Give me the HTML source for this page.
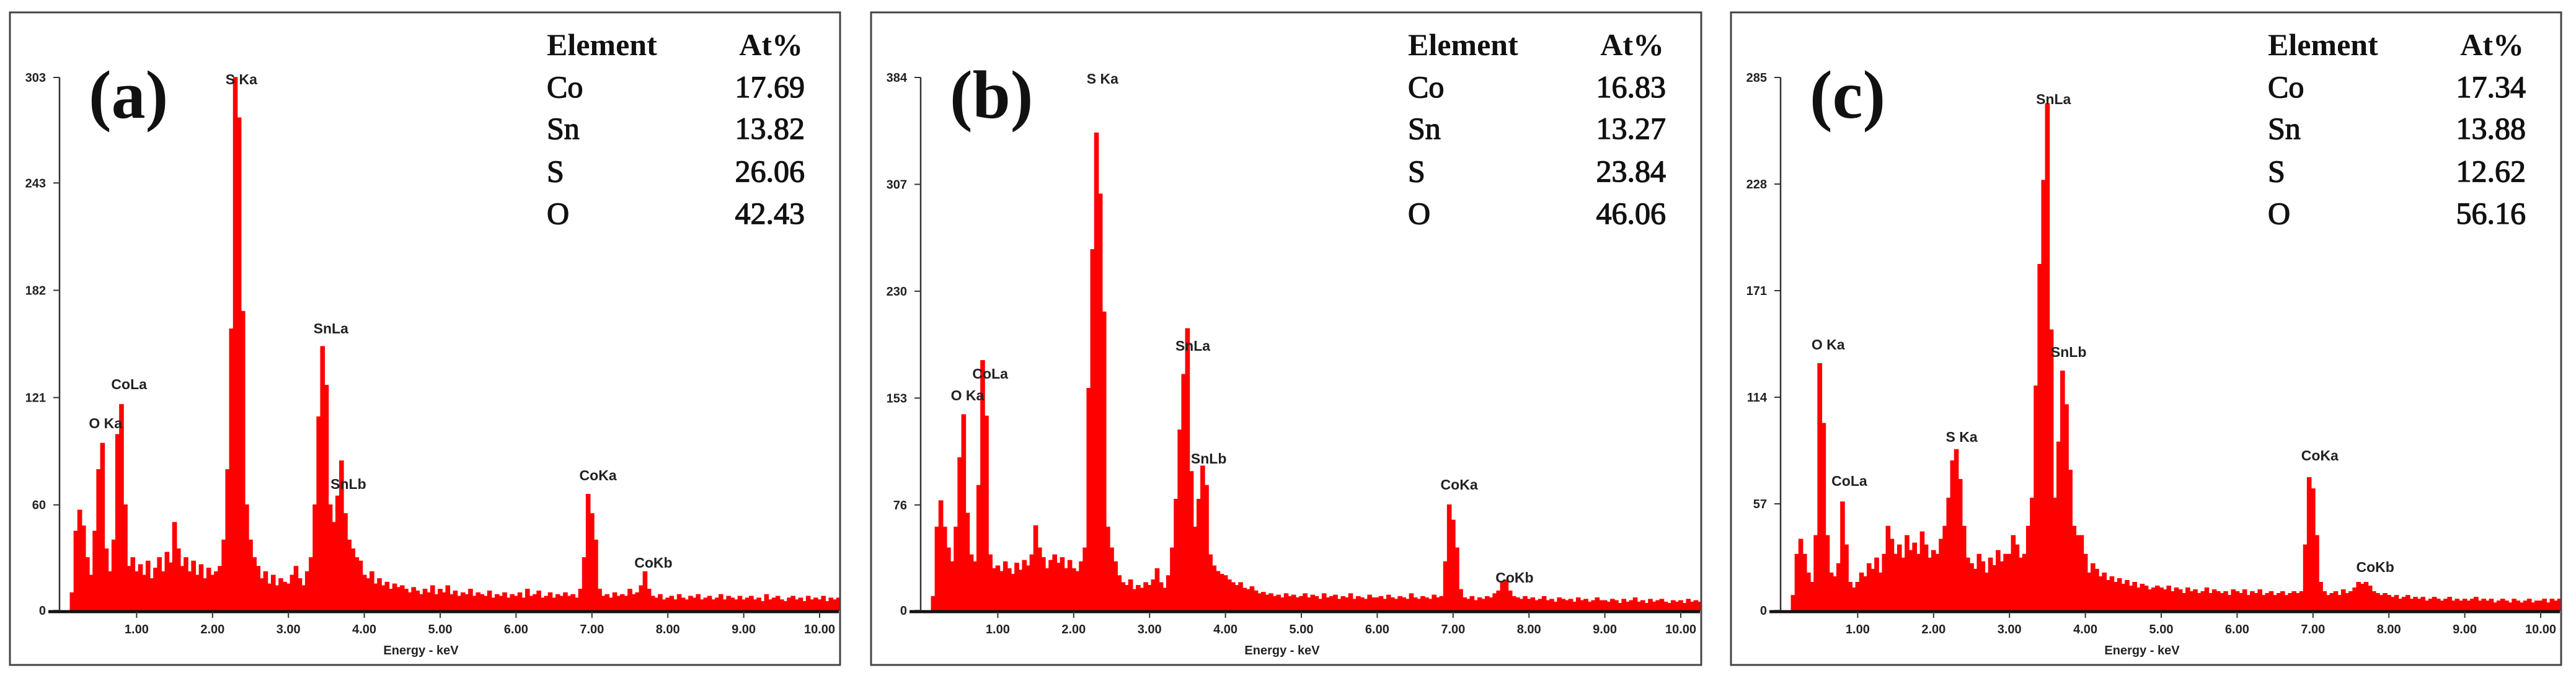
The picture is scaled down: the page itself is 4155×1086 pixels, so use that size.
<!DOCTYPE html>
<html><head><meta charset="utf-8">
<style>
html,body{margin:0;padding:0;background:#fff;}
svg{display:block;}
.tick{font-family:"Liberation Sans Narrow","Liberation Sans",sans-serif;font-weight:bold;font-size:20px;fill:#222;}
.pk{font-family:"Liberation Sans Narrow","Liberation Sans",sans-serif;font-weight:bold;font-size:23px;fill:#222;}
.tb{font-family:"Liberation Serif",serif;font-size:50px;fill:#111;}
.tr{stroke:#111;stroke-width:1.3px;}
</style></head>
<body>
<svg id="chart" width="4155" height="1086" viewBox="0 0 4155 1086" xmlns="http://www.w3.org/2000/svg"></svg>
<script>
// ---- data ----
const binStart = 0.15;   // keV of first bin
const binStep = 0.05;    // keV per bin
const panelLetters = ["(a)", "(b)", "(c)"];
const yMaxes = [303, 384, 285];
const yTicksA = [0, 60, 121, 182, 243, 303];
const yTicksB = [0, 76, 153, 230, 307, 384];
const yTicksC = [0, 57, 114, 171, 228, 285];
const xTickValues = [1, 2, 3, 4, 5, 6, 7, 8, 9, 10];
const xTickLabels = ["1.00","2.00","3.00","4.00","5.00","6.00","7.00","8.00","9.00","10.00"];
const elements = ["Co", "Sn", "S", "O"];
const atA = ["17.69", "13.82", "26.06", "42.43"];
const atB = ["16.83", "13.27", "23.84", "46.06"];
const atC = ["17.34", "13.88", "12.62", "56.16"];
const countsA = [10,45,57,48,30,20,45,80,95,35,22,40,100,117,60,25,30,
22,26,20,28,18,24,30,22,33,27,50,35,25,30,22,28,20,26,18,24,
20,22,25,40,80,160,303,280,170,60,40,30,25,18,22,15,20,14,18,16,
15,20,25,18,14,22,30,60,110,150,128,60,50,65,85,55,40,35,30,28,
20,18,22,15,18,14,16,12,15,13,14,12,10,13,11,9,12,10,14,9,
12,10,14,9,11,8,10,9,12,8,10,9,8,11,7,9,8,10,7,9,
8,10,7,12,8,9,11,7,8,10,7,9,8,10,8,9,7,12,30,66,
55,40,12,8,9,7,10,8,9,8,12,9,10,14,22,12,8,7,9,6,
7,8,6,9,7,6,8,7,9,6,7,8,6,7,9,6,8,7,6,8,
6,7,8,6,7,5,9,6,7,8,6,5,7,8,6,7,5,8,6,7,
6,8,5,7,6,7];
const countsB = [10,60,79,60,45,35,60,110,141,70,40,35,90,180,140,40,30,
32,28,35,30,26,34,29,36,32,40,61,45,38,30,36,40,34,38,30,36,
30,28,35,45,160,260,344,300,215,60,45,35,25,20,18,22,15,18,16,20,
18,22,30,20,16,25,45,80,130,170,203,100,60,80,104,90,40,32,28,26,
25,22,20,18,20,16,15,17,14,12,13,11,12,10,11,9,12,10,11,9,
10,12,9,11,10,8,12,9,10,11,8,10,9,12,8,10,9,8,11,9,
9,10,8,11,9,8,10,9,8,12,9,8,10,9,8,11,9,10,35,76,
65,45,15,9,8,10,7,9,8,10,9,12,14,20,22,14,10,9,8,10,
8,9,7,8,10,7,8,6,9,8,7,8,6,9,7,8,6,7,9,7,
7,6,8,7,5,8,6,7,9,6,7,5,8,6,7,8,6,5,7,6,
7,5,8,6,7,6];
const countsC = [8,30,38,30,20,15,40,132,100,40,20,18,25,58,35,15,12,
15,20,18,25,22,28,20,30,45,38,30,35,28,40,32,36,30,42,35,28,
32,30,38,45,60,80,86,70,45,28,25,22,30,26,20,28,24,32,26,30,
30,40,35,28,30,45,60,120,185,230,271,150,60,90,128,110,75,45,40,40,
30,20,25,22,18,20,16,18,15,17,14,16,13,15,12,14,13,11,12,13,
12,11,13,10,12,11,9,12,10,11,9,10,12,9,11,10,9,10,8,11,
10,9,11,8,10,9,11,8,9,10,8,9,10,8,9,10,9,10,35,71,
65,40,15,10,8,9,10,8,11,9,10,12,15,14,15,13,10,9,8,9,
8,7,8,6,7,8,6,7,6,7,5,6,7,6,5,6,7,5,6,5,
6,5,6,7,5,6,5,6,4,5,6,5,4,6,5,4,5,6,4,5,
5,6,4,6,5,6];
const peakNamesA = ["S Ka","SnLa","CoLa","O Ka","SnLb","CoKa","CoKb"];
const peakEA = [2.38,3.56,0.90,0.59,3.79,7.08,7.81];
const peakYA = [128,530,620,683,781,767,908];
const peakNamesB = ["S Ka","SnLa","CoLa","O Ka","SnLb","CoKa","CoKb"];
const peakEB = [2.38,3.57,0.90,0.60,3.78,7.08,7.81];
const peakYB = [127,558,603,638,740,782,932];
const peakNamesC = ["SnLa","O Ka","SnLb","S Ka","CoLa","CoKa","CoKb"];
const peakEC = [3.58,0.61,3.78,2.37,0.89,7.09,7.82];
const peakYC = [160,556,568,705,776,735,915];

// ---- layout ----
const frameLefts = [16, 1405, 2792];
const NS = "http://www.w3.org/2000/svg";
const svg = document.getElementById("chart");
function mk(tag, attrs, parent){
  const e = document.createElementNS(NS, tag);
  for (const k in attrs) e.setAttribute(k, attrs[k]);
  parent.appendChild(e);
  return e;
}
const panels = [
  {ticks:yTicksA, at:atA, counts:countsA, pn:peakNamesA, pe:peakEA, py:peakYA},
  {ticks:yTicksB, at:atB, counts:countsB, pn:peakNamesB, pe:peakEB, py:peakYB},
  {ticks:yTicksC, at:atC, counts:countsC, pn:peakNamesC, pe:peakEC, py:peakYC}
];
const BASE = 985, TOP = 125, KEV = 122.4;
panels.forEach((p, i) => {
  const F = frameLefts[i];
  const ymax = yMaxes[i];
  const xs = e => F + 82 + e * KEV;
  const ys = v => BASE - v / ymax * (BASE - TOP);
  const right = F + 1337;
  const g = mk("g", {}, svg);
  
  

  const fr = mk("rect", {x:F, y:20, width:1339, height:1053, fill:"#fff", stroke:"#444", "stroke-width":3}, g);
  
  

  // spectrum as histogram
  let d = "M" + xs(binStart - binStep/2) + "," + BASE;
  p.counts.forEach((c, k) => {
    const e = binStart + k * binStep;
    const x0 = Math.min(xs(e - binStep/2), right), x1 = Math.min(xs(e + binStep/2), right);
    d += " L" + x0.toFixed(1) + "," + ys(c).toFixed(1) + " L" + x1.toFixed(1) + "," + ys(c).toFixed(1);
  });
  d += " L" + Math.min(xs(binStart + (p.counts.length - 0.5) * binStep), right).toFixed(1) + "," + BASE + " Z";
  const sp = mk("path", {d:d, fill:"#ff0000", stroke:"#ff0000", "stroke-width":1.5, "stroke-linejoin":"miter"}, g);
  
  

  // axes
  const ya = mk("line", {x1:F+80, y1:TOP, x2:F+80, y2:BASE, stroke:"#333", "stroke-width":2.5}, g);
  
  
  const xa = mk("line", {x1:F+62, y1:BASE+2, x2:right, y2:BASE+2, stroke:"#111", "stroke-width":5}, g);
  
  

  p.ticks.forEach(v => {
    const y = ys(v);
    mk("line", {x1:F+70, y1:y, x2:F+80, y2:y, stroke:"#333", "stroke-width":2}, g);
    const t = mk("text", {x:F+58, y:y+7, "text-anchor":"end", class:"tick"}, g);
    t.textContent = v;
    
    
  });
  xTickValues.forEach((v, k) => {
    const x = xs(v);
    mk("line", {x1:x, y1:BASE+2, x2:x, y2:BASE+12, stroke:"#333", "stroke-width":2}, g);
    const t = mk("text", {x:x, y:1022, "text-anchor":"middle", class:"tick"}, g);
    t.textContent = xTickLabels[k];
    
    
  });
  const xt = mk("text", {x:F+663, y:1056, "text-anchor":"middle", class:"tick", "font-size":"22"}, g);
  xt.textContent = "Energy - keV";
  
  

  // peak labels
  p.pn.forEach((n, k) => {
    const t = mk("text", {x:xs(p.pe[k]), y:p.py[k] + 8, "text-anchor":"middle", class:"pk"}, g);
    t.textContent = n;
    
    
  });

  // panel letter
  const L = mk("text", {x:F+127, y:190, "font-family":"Liberation Serif, serif", "font-weight":"bold", "font-size":"110", fill:"#111"}, g);
  L.textContent = panelLetters[i];
  
  

  // composition table
  const h1 = mk("text", {x:F+866, y:89, class:"tb", "font-weight":"bold"}, g);
  h1.textContent = "Element";
  
  
  const h2 = mk("text", {x:F+1279, y:89, class:"tb", "font-weight":"bold", "text-anchor":"end"}, g);
  h2.textContent = "At%";
  
  
  const rowY = [157, 224, 293, 361];
  elements.forEach((el, k) => {
    const a = mk("text", {x:F+866, y:rowY[k], class:"tb tr"}, g);
    a.textContent = el;
    
    
    const b = mk("text", {x:F+1282, y:rowY[k], class:"tb tr", "text-anchor":"end"}, g);
    b.textContent = p.at[k];
    
    
  });
});
</script>
</body></html>
